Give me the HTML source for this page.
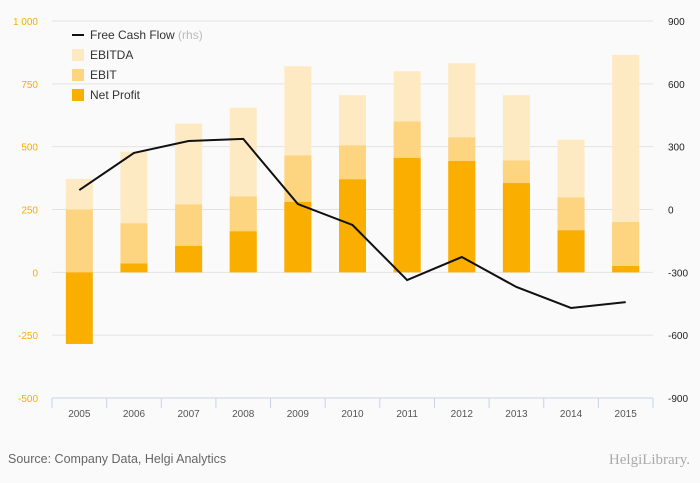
<!DOCTYPE html>
<html><head><meta charset="utf-8"><style>
html,body{margin:0;padding:0;background:#fafafa;}
svg{display:block;font-family:"Liberation Sans",sans-serif;}
</style></head><body>
<svg id="c" width="700" height="483"></svg>
<script>
const categories=["2005","2006","2007","2008","2009","2010","2011","2012","2013","2014","2015"];
const ebitda=[372,480,592,655,820,705,800,832,705,528,865];
const ebit=[250,195,270,302,465,505,600,537,445,298,200];
const netProfit=[-285,35,105,163,280,370,455,443,355,167,25];
const fcf=[93,270,327,337,26,-74,-337,-227,-370,-470,-442];
const leftTicks=[-500,-250,0,250,500,750,1000];
const leftTickLabels=["-500","-250","0","250","500","750","1 000"];
const rightTicks=[-900,-600,-300,0,300,600,900];
const NS="http://www.w3.org/2000/svg";
const svg=document.getElementById('c');
const X0=52,X1=653,TOP=21,BOT=398;
const yL=v=>BOT-(v+500)/1500*(BOT-TOP);
const yR=v=>BOT-(v+900)/1800*(BOT-TOP);
const step=(X1-X0)/categories.length;
const xC=i=>X0+step*(i+0.5);
function el(t,a,p){const e=document.createElementNS(NS,t);for(const k in a)e.setAttribute(k,a[k]);(p||svg).appendChild(e);return e;}
leftTicks.forEach((v,i)=>{
 const g=el('line',{x1:X0,x2:X1,y1:yL(v),y2:yL(v),stroke:'#e3e3e3','stroke-width':1});
 
 
 const t=el('text',{x:38,y:yL(v)+4,'text-anchor':'end','font-size':10,fill:'#f9ae00'});
 t.textContent=leftTickLabels[i];
 
 
});
rightTicks.forEach(v=>{
 const t=el('text',{x:668,y:yR(v)+4,'text-anchor':'start','font-size':10,fill:'#222'});
 t.textContent=String(v);
 
 
});
const bw=27;
function bar(i,v,col,name){
 const y0=yL(0),y1=yL(v);
 const r=el('rect',{x:xC(i)-bw/2,y:Math.min(y0,y1),width:bw,height:Math.abs(y1-y0),fill:col});
 
 
}
categories.forEach((c,i)=>{
 bar(i,ebitda[i],'#feeac2','bar-ebitda');
 bar(i,ebit[i],'#fdd480','bar-ebit');
 bar(i,netProfit[i],'#f9ae00','bar-net-profit');
});
const ax=el('line',{x1:X0,x2:X1,y1:BOT,y2:BOT,stroke:'#c8d3e6'});


for(let i=0;i<=categories.length;i++){
 const tk=el('line',{x1:X0+step*i,x2:X0+step*i,y1:BOT,y2:BOT+10,stroke:'#c8d3e6'});
 
 
}
categories.forEach((c,i)=>{
 const t=el('text',{x:xC(i),y:417,'text-anchor':'middle','font-size':10,fill:'#555'});
 t.textContent=c;
 
 
});
const pl=el('polyline',{points:fcf.map((v,i)=>xC(i)+','+yR(v)).join(' '),fill:'none',stroke:'#111','stroke-width':2});


const lg=el('g',{});


el('line',{x1:72,x2:84,y1:35,y2:35,stroke:'#111','stroke-width':2},lg);
const t0=el('text',{x:90,y:39,'font-size':12,fill:'#333'},lg);
t0.innerHTML='Free Cash Flow <tspan fill="#bbb">(rhs)</tspan>';
[['EBITDA','#feeac2',55],['EBIT','#fdd480',75],['Net Profit','#f9ae00',95]].forEach(a=>{
 el('rect',{x:72,y:a[2]-6,width:12,height:12,fill:a[1]},lg);
 const t=el('text',{x:90,y:a[2]+4,'font-size':12,fill:'#333'},lg);
 t.textContent=a[0];
 
 
});
const src=el('text',{x:8,y:463,'font-size':12.5,fill:'#666'});
src.textContent='Source: Company Data, Helgi Analytics';


const logo=el('text',{x:690,y:464,'text-anchor':'end','font-size':15,fill:'#aaa','font-family':'Liberation Serif,serif'});
logo.textContent='HelgiLibrary.';


</script>
</body></html>
